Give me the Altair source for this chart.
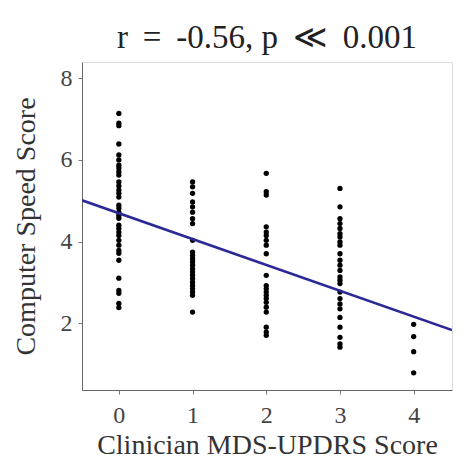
import altair as alt
import pandas as pd

# Clinician MDS-UPDRS score categories
updrs_levels = [0, 1, 2, 3, 4]

# Computer speed scores per clinician score
speed_0 = [7.14, 6.90, 6.84, 6.39, 6.12, 6.00, 5.87, 5.80, 5.71, 5.63, 5.46, 5.36,
           5.26, 5.18, 5.09, 4.89, 4.82, 4.72, 4.64, 4.57, 4.40, 4.32, 4.23, 4.15,
           4.03, 3.91, 3.78, 3.71, 3.54, 3.10, 2.80, 2.73, 2.48, 2.38]
speed_1 = [5.46, 5.34, 5.18, 4.97, 4.85, 4.72, 4.56, 4.44, 4.03, 3.74, 3.66, 3.58,
           3.50, 3.42, 3.33, 3.25, 3.17, 3.09, 3.00, 2.92, 2.84, 2.76, 2.68, 2.27]
speed_2 = [5.67, 5.22, 5.14, 4.36, 4.23, 4.15, 4.03, 3.91, 3.70, 3.17, 2.92, 2.84,
           2.76, 2.68, 2.60, 2.51, 2.39, 2.27, 1.90, 1.78, 1.70]
speed_3 = [5.30, 4.85, 4.56, 4.44, 4.32, 4.19, 4.11, 3.99, 3.91, 3.70, 3.54, 3.42,
           3.29, 3.13, 3.05, 2.97, 2.76, 2.60, 2.47, 2.35, 2.14, 1.90, 1.65, 1.49, 1.41]
speed_4 = [1.97, 1.67, 1.30, 0.78]

# Fitted regression line end points
fit_x = [-0.5, 4.52]
fit_y = [5.01, 1.83]

title_text = "r \u2009=\u2009 -0.56, p \u2009\u226a\u2009 0.001"
x_title = "Clinician MDS-UPDRS Score"
y_title = "Computer Speed Score"
y_ticks = [2, 4, 6, 8]

rows = []
for lvl, vals in zip(updrs_levels, [speed_0, speed_1, speed_2, speed_3, speed_4]):
    for v in vals:
        rows.append({"updrs": lvl, "speed": v})
points_df = pd.DataFrame(rows)
fit_df = pd.DataFrame({"updrs": fit_x, "speed": fit_y})

FONT = "Liberation Serif"
x_scale = alt.Scale(domain=[-0.5, 4.52], nice=False, zero=False)
y_scale = alt.Scale(domain=[0.36, 8.4], nice=False, zero=False)

x_axis = alt.Axis(title=x_title, values=updrs_levels, format="d", grid=False,
                  domainColor="#666666", tickColor="#777777", tickSize=4,
                  labelFont=FONT, labelFontSize=24, labelColor="#444444",
                  labelPadding=9, titleFont=FONT, titleFontSize=28,
                  titleFontWeight="normal", titleColor="#333333", titlePadding=4)
y_axis = alt.Axis(title=y_title, values=y_ticks, format="d", grid=False,
                  domainColor="#666666", tickColor="#777777", tickSize=4,
                  labelFont=FONT, labelFontSize=24, labelColor="#444444",
                  labelPadding=6, titleFont=FONT, titleFontSize=28,
                  titleFontWeight="normal", titleColor="#333333", titlePadding=20)

pts = alt.Chart(points_df).mark_circle(size=28, color="black", opacity=1).encode(
    x=alt.X("updrs:Q", scale=x_scale, axis=x_axis),
    y=alt.Y("speed:Q", scale=y_scale, axis=y_axis),
)

line = alt.Chart(fit_df).mark_line(color="#2b2996", strokeWidth=2.6, clip=True).encode(
    x=alt.X("updrs:Q", scale=x_scale),
    y=alt.Y("speed:Q", scale=y_scale),
)

chart = alt.layer(pts, line).properties(
    width=370,
    height=328,
    autosize="none",
    padding={"left": 82, "top": 62, "right": 17, "bottom": 71},
    title=alt.TitleParams(title_text, font=FONT, fontSize=33, fontWeight="normal",
                          color="#222222", offset=7, anchor="middle"),
).configure_view(stroke=None).configure(background="white")

chart.save("out.html", embed_options={"renderer": "svg", "actions": False})
